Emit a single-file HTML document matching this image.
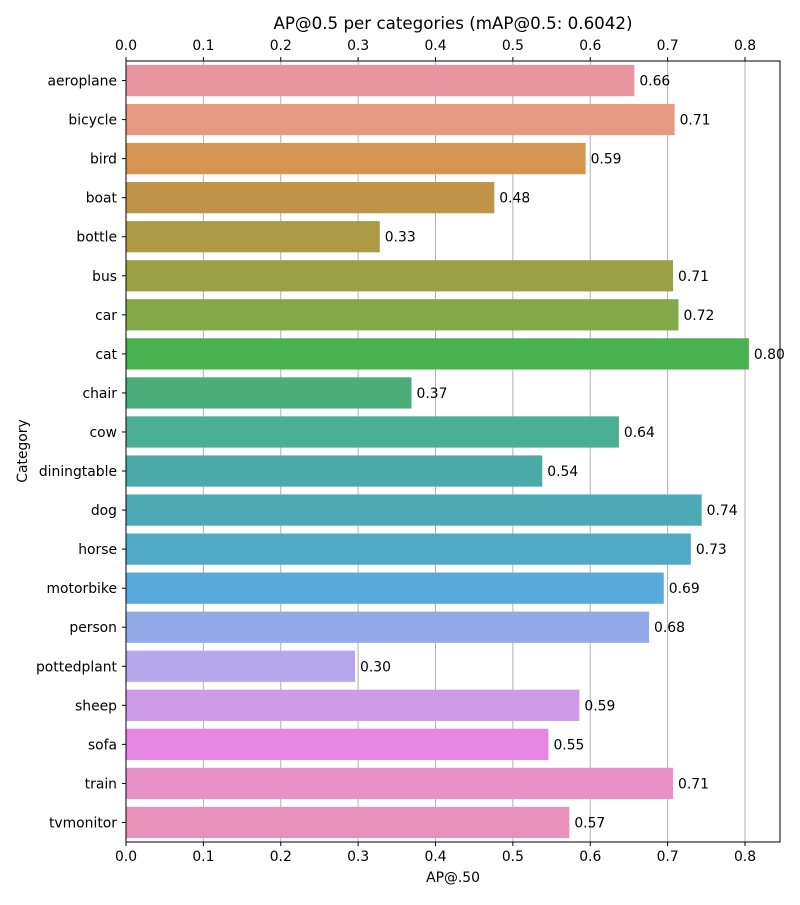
<!DOCTYPE html>
<html><head><meta charset="utf-8"><style>body{margin:0;background:#fff}svg{font-family:"DejaVu Sans","Liberation Sans",sans-serif}</style></head>
<body>
<svg id="chart" width="800" height="900" xmlns="http://www.w3.org/2000/svg">
<rect width="800" height="900" fill="#fff"/>
<text x="453" y="29" font-size="16.7" text-anchor="middle">AP@0.5 per categories (mAP@0.5: 0.6042)</text>
<text x="453" y="882" font-size="13.9" text-anchor="middle">AP@.50</text>
<text transform="translate(27,451) rotate(-90)" font-size="13.9" text-anchor="middle">Category</text>
<g id="grid"></g><g id="bars"></g><g id="axes"></g>
</svg>
<script>
const categories=["aeroplane","bicycle","bird","boat","bottle","bus","car","cat","chair","cow","diningtable","dog","horse","motorbike","person","pottedplant","sheep","sofa","train","tvmonitor"];
const values=[0.657,0.709,0.594,0.476,0.328,0.707,0.714,0.805,0.369,0.637,0.538,0.744,0.730,0.695,0.676,0.296,0.586,0.546,0.707,0.573];
const valueLabels=["0.66","0.71","0.59","0.48","0.33","0.71","0.72","0.80","0.37","0.64","0.54","0.74","0.73","0.69","0.68","0.30","0.59","0.55","0.71","0.57"];
const tickValues=[0,0.1,0.2,0.3,0.4,0.5,0.6,0.7,0.8];
const tickLabels=["0.0","0.1","0.2","0.3","0.4","0.5","0.6","0.7","0.8"];
const colors=["#e8959f","#e69882","#d5944f","#c09547","#ac9a45","#9aa145","#82a847","#4ab14f","#4aad7a","#4baf95","#4baaa8","#4caab6","#50aac6","#58aadc","#94aae8","#b6a6ec","#cf9be6","#e685e2","#e890c8","#e891bb"];
const NS="http://www.w3.org/2000/svg";
const L=126,R=780,T=61,B=842,XMAX=654/773.75;
const x=v=>L+v/XMAX*(R-L);
const band=(B-T)/categories.length;
const y=i=>T+i*band;
function mk(tag,attrs,parent){const e=document.createElementNS(NS,tag);for(const k in attrs)e.setAttribute(k,attrs[k]);parent.appendChild(e);return e;}
const grid=document.getElementById('grid'),bars=document.getElementById('bars'),axes=document.getElementById('axes');
tickValues.forEach((v,i)=>{
  const g=mk('line',{x1:x(v),x2:x(v),y1:T,y2:B,stroke:'#b0b0b0','stroke-width':1},grid);
  
  
  [[B,B+4,B+19],[T,T-4,T-11]].forEach(([a,b,ty])=>{
    const t=mk('line',{x1:x(v),x2:x(v),y1:a,y2:b,stroke:'#000'},axes);
    
    
    const lb=mk('text',{x:x(v),y:ty,'font-size':13.9,'text-anchor':'middle'},axes);
    lb.textContent=tickLabels[i];
    
    
  });
});
categories.forEach((c,i)=>{
  const top=y(i)+band*0.1,h=band*0.8;
  const r=mk('rect',{x:L,y:top,width:x(values[i])-L,height:h,fill:colors[i]},bars);
  
  
  const vl=mk('text',{x:x(values[i])+5,y:y(i)+band/2+5,'font-size':13.9},bars);
  vl.textContent=valueLabels[i];
  
  
  const tk=mk('line',{x1:L,x2:L-4,y1:y(i)+band/2,y2:y(i)+band/2,stroke:'#000'},axes);
  
  
  const cl=mk('text',{x:L-9,y:y(i)+band/2+5,'font-size':13.9,'text-anchor':'end'},axes);
  cl.textContent=c;
  
  
});
const fr=mk('rect',{x:L,y:T,width:R-L,height:B-T,fill:'none',stroke:'#000','stroke-width':1},axes);


</script>
</body></html>
